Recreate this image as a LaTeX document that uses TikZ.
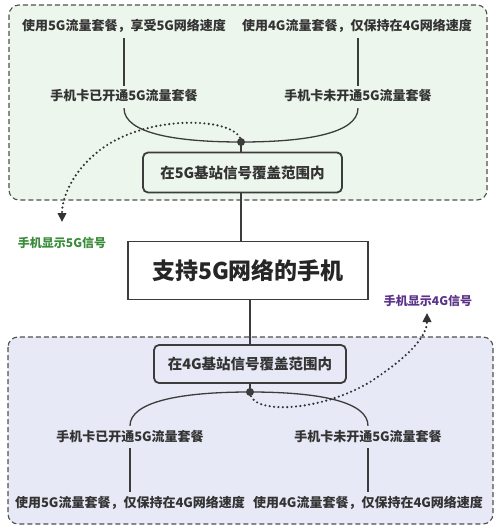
\documentclass[tikz,border=0pt]{standalone}
\usepackage{fontspec}
\setmainfont{Noto Sans CJK SC}
\usetikzlibrary{arrows.meta}
\definecolor{txt}{HTML}{333333}
\definecolor{ln}{HTML}{3C3C3C}
\definecolor{greenbg}{HTML}{EDF6EC}
\definecolor{bluebg}{HTML}{E7E9F6}
\definecolor{sigg}{HTML}{3A8C3A}
\definecolor{sigp}{HTML}{5B3489}
\tikzset{
  region/.style={draw=ln!90, line width=1.1pt, dash pattern=on 5pt off 3pt, rounded corners=10pt},
  lbl/.style={font=\fontsize{13}{15}\selectfont\bfseries, text=txt, inner xsep=2pt, inner ysep=5pt, text height=10pt, text depth=2pt},
  stage/.style={draw=ln, line width=1.8pt, rounded corners=5pt, font=\fontsize{14.5}{17}\selectfont\bfseries, text=txt},
  mainbox/.style={draw=ln, line width=1.8pt, fill=white, font=\fontsize{23}{26}\selectfont\bfseries, text=black!85},
  sig/.style={font=\fontsize{12}{14}\selectfont\bfseries},
  conn/.style={draw=ln, line width=1.3pt},
  dots/.style={draw=txt, line width=2.4pt, dash pattern=on 0pt off 4.4pt, line cap=round, -{Triangle[length=9pt,width=8.5pt]}},
}
\begin{document}
\begin{tikzpicture}[x=1pt,y=-1pt]
\useasboundingbox (0,0) rectangle (500,532);
\fill[white] (0,0) rectangle (500,532);
\draw[region, fill=greenbg] (9,5) rectangle (487,200);
\draw[region, fill=bluebg] (8,337) rectangle (493,524);
% top
\node[lbl] (a1) at (124,27) {使用5G流量套餐，享受5G网络速度};
\node[lbl] (a2) at (357,27) {使用4G流量套餐，仅保持在4G网络速度};
\node[lbl] (c1) at (124,97) {手机卡已开通5G流量套餐};
\node[lbl] (c2) at (358,97) {手机卡未开通5G流量套餐};
\coordinate (j5) at (241,142);
\node[stage, minimum width=199pt, minimum height=40pt] (b5) at (242.5,172.5) {在5G基站信号覆盖范围内};
% main
\node[mainbox, minimum width=240pt, minimum height=58pt] (m) at (248,270.5) {支持5G网络的手机};
% bottom
\node[stage, minimum width=192pt, minimum height=38pt] (b4) at (250,364) {在4G基站信号覆盖范围内};
\coordinate (j4) at (250,392);
\node[lbl] (d1) at (130,437) {手机卡已开通5G流量套餐};
\node[lbl] (d2) at (368,437) {手机卡未开通5G流量套餐};
\node[lbl] (e1) at (130,503) {使用5G流量套餐，仅保持在4G网络速度};
\node[lbl] (e2) at (368,503) {使用4G流量套餐，仅保持在4G网络速度};
% signal labels
\node[sig, text=sigg] (s5) at (62,243) {手机显示5G信号};
\node[sig, text=sigp] (s4) at (428,301) {手机显示4G信号};
\coordinate (ar5) at (62,222);
\coordinate (ar4) at (427,313);
% connectors top
\draw[conn] (a1.south) -- (c1.north);
\draw[conn] (a2.south -| c2) -- (c2.north);
\draw[conn] (c1.south) .. controls +(0,26) and +(-62,0) .. (j5);
\draw[conn] (c2.south) .. controls +(0,26) and +(62,0) .. (j5);
\draw[conn] (j5) -- (j5 |- b5.north);
\draw[conn] (j5 |- b5.south) -- (j5 |- m.north);
% connectors bottom
\draw[conn] (m.south -| b4.north) -- (b4.north);
\draw[conn] (b4.south) -- (j4);
\draw[conn] (d1.north) .. controls +(0,-24) and +(-70,0) .. (j4);
\draw[conn] (d2.north) .. controls +(0,-24) and +(70,0) .. (j4);
\draw[conn] (d1.south) -- (e1.north);
\draw[conn] (d2.south) -- (e2.north);
% dotted signal arrows
\draw[dots] (j5) .. controls (241,118) and (150,112) .. (100,150) .. controls (75,169) and (62,195) .. (ar5);
\draw[dots] (j4) .. controls (250,415) and (320,412) .. (370,382) .. controls (410,356) and (427,336) .. (ar4);
\fill[ln] (j5) circle (4pt);
\fill[ln] (j4) circle (4pt);
\end{tikzpicture}
\end{document}
